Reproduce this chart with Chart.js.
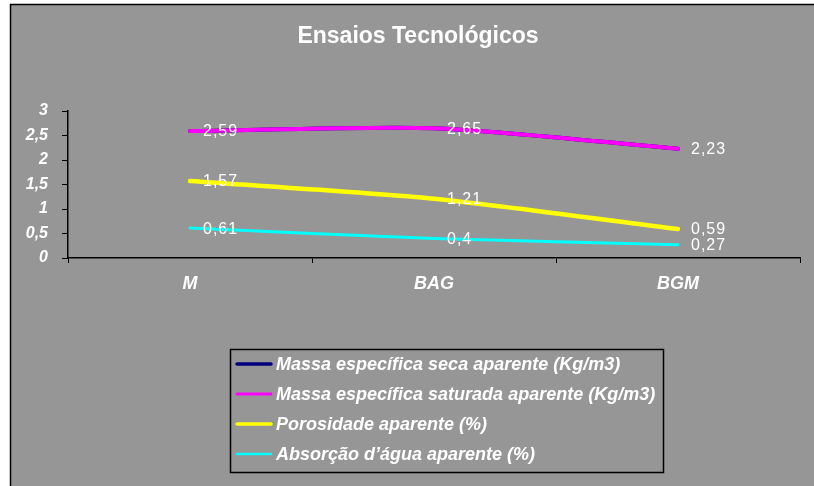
<!DOCTYPE html>
<html>
<head>
<meta charset="utf-8">
<title>Ensaios Tecnológicos</title>
<script src="https://cdn.jsdelivr.net/npm/chart.js@4/dist/chart.umd.min.js"></script>
<style>
  html, body { margin: 0; padding: 0; background: #ffffff; }
  #wrap { width: 814px; height: 486px; }
</style>
</head>
<body>
<div id="wrap"><canvas id="chart" width="814" height="486"></canvas></div>
<script>
// Categories and measured values
const categories = ['M', 'BAG', 'BGM'];
const seriesNames = [
  'Massa específica seca aparente (Kg/m3)',
  'Massa específica saturada aparente (Kg/m3)',
  'Porosidade aparente (%)',
  'Absorção d’água aparente (%)'
];
const massaSeca = [2.59, 2.65, 2.23];
const massaSaturada = [2.59, 2.65, 2.23];
const porosidade = [1.57, 1.21, 0.59];
const absorcao = [0.61, 0.4, 0.27];
const yTicks = [0, 0.5, 1, 1.5, 2, 2.5, 3];

const titleText = 'Ensaios Tecnológicos';
const BG = '#969696';
const FONT = '"Liberation Sans", Arial, sans-serif';

const fmt = v => String(v).replace('.', ',');

// Background, frame and title
const framePlugin = {
  id: 'frame',
  beforeDraw(chart) {
    const ctx = chart.ctx;
    ctx.save();
    ctx.fillStyle = '#ffffff';
    ctx.fillRect(0, 0, chart.width, chart.height);
    ctx.fillStyle = BG;
    ctx.fillRect(10, 4, chart.width - 10, chart.height - 4);
    ctx.strokeStyle = '#000000';
    ctx.lineWidth = 1.5;
    ctx.beginPath();
    ctx.moveTo(10.5, chart.height);
    ctx.lineTo(10.5, 4.5);
    ctx.lineTo(chart.width, 4.5);
    ctx.stroke();
    ctx.fillStyle = '#ffffff';
    ctx.font = 'bold 23px ' + FONT;
    ctx.textAlign = 'center';
    ctx.textBaseline = 'alphabetic';
    ctx.fillText(titleText, 418, 43);
    ctx.restore();
  }
};

// Value labels to the right of each point
const valueLabels = {
  id: 'valueLabels',
  afterDatasetsDraw(chart) {
    const ctx = chart.ctx;
    ctx.save();
    ctx.font = '16px ' + FONT;
    ctx.letterSpacing = '1px';
    ctx.fillStyle = '#ffffff';
    ctx.textAlign = 'left';
    ctx.textBaseline = 'middle';
    chart.data.datasets.forEach((ds, i) => {
      if (!ds.showValues) return;
      const meta = chart.getDatasetMeta(i);
      meta.data.forEach((pt, j) => {
        ctx.fillText(fmt(ds.data[j]), pt.x + 13, pt.y + 1);
      });
    });
    ctx.restore();
  }
};

// Boxed legend below the plot
const boxLegend = {
  id: 'boxLegend',
  afterDraw(chart) {
    const ctx = chart.ctx;
    const box = { x: 230, y: 349, w: 433, h: 123 };
    ctx.save();
    ctx.strokeStyle = '#000000';
    ctx.lineWidth = 1.5;
    ctx.strokeRect(box.x + 0.5, box.y + 0.5, box.w, box.h);
    ctx.font = 'italic bold 18px ' + FONT;
    ctx.textAlign = 'left';
    ctx.textBaseline = 'middle';
    chart.data.datasets.forEach((ds, i) => {
      const cy = 364 + i * 30;
      ctx.strokeStyle = ds.borderColor;
      ctx.lineWidth = ds.legendWidth;
      ctx.lineCap = 'round';
      ctx.beginPath();
      ctx.moveTo(237, cy);
      ctx.lineTo(271, cy);
      ctx.stroke();
      ctx.fillStyle = '#ffffff';
      ctx.fillText(ds.label, 276, cy + 1);
    });
    ctx.restore();
  }
};

const mk = (label, data, color, width, legendWidth, order, showValues) => ({
  label, data,
  borderColor: color,
  backgroundColor: color,
  borderWidth: width,
  legendWidth,
  order,
  showValues,
  pointRadius: 0,
  pointHoverRadius: 0,
  fill: false,
  tension: 0.25,
  borderCapStyle: 'round',
  borderJoinStyle: 'round'
});

new Chart(document.getElementById('chart'), {
  type: 'line',
  data: {
    labels: categories,
    datasets: [
      mk(seriesNames[0], massaSeca, '#000080', 4, 3.5, 2, false),
      mk(seriesNames[1], massaSaturada, '#ff00ff', 4, 3, 1, true),
      mk(seriesNames[2], porosidade, '#ffff00', 4.5, 3.5, 1, true),
      mk(seriesNames[3], absorcao, '#00ffff', 3, 2.5, 1, true)
    ]
  },
  options: {
    responsive: false,
    devicePixelRatio: 1,
    animation: false,
    events: [],
    layout: { padding: { left: 0, top: 111, right: 14, bottom: 0 } },
    plugins: {
      legend: { display: false },
      title: { display: false },
      tooltip: { enabled: false }
    },
    scales: {
      x: {
        type: 'category',
        offset: true,
        grid: {
          offset: true,
          drawOnChartArea: false,
          drawTicks: true,
          tickLength: 5,
          color: '#000000',
          lineWidth: 1
        },
        border: { display: true, color: '#000000', width: 1.5 },
        ticks: {
          color: '#ffffff',
          padding: 10,
          maxRotation: 0,
          font: { family: FONT, size: 18, style: 'italic', weight: 'bold' }
        },
        afterFit(scale) { scale.height = 228; }
      },
      y: {
        min: 0,
        max: 3,
        afterBuildTicks(scale) { scale.ticks = yTicks.map(v => ({ value: v })); },
        grid: {
          drawOnChartArea: false,
          drawTicks: true,
          tickLength: 6,
          color: '#000000',
          lineWidth: 1
        },
        border: { display: true, color: '#000000', width: 1.5 },
        ticks: {
          color: '#ffffff',
          padding: 14,
          callback: v => fmt(v),
          font: { family: FONT, size: 16, style: 'italic', weight: 'bold' }
        },
        afterFit(scale) { scale.width = 68; }
      }
    }
  },
  plugins: [framePlugin, valueLabels, boxLegend]
});
</script>
</body>
</html>
